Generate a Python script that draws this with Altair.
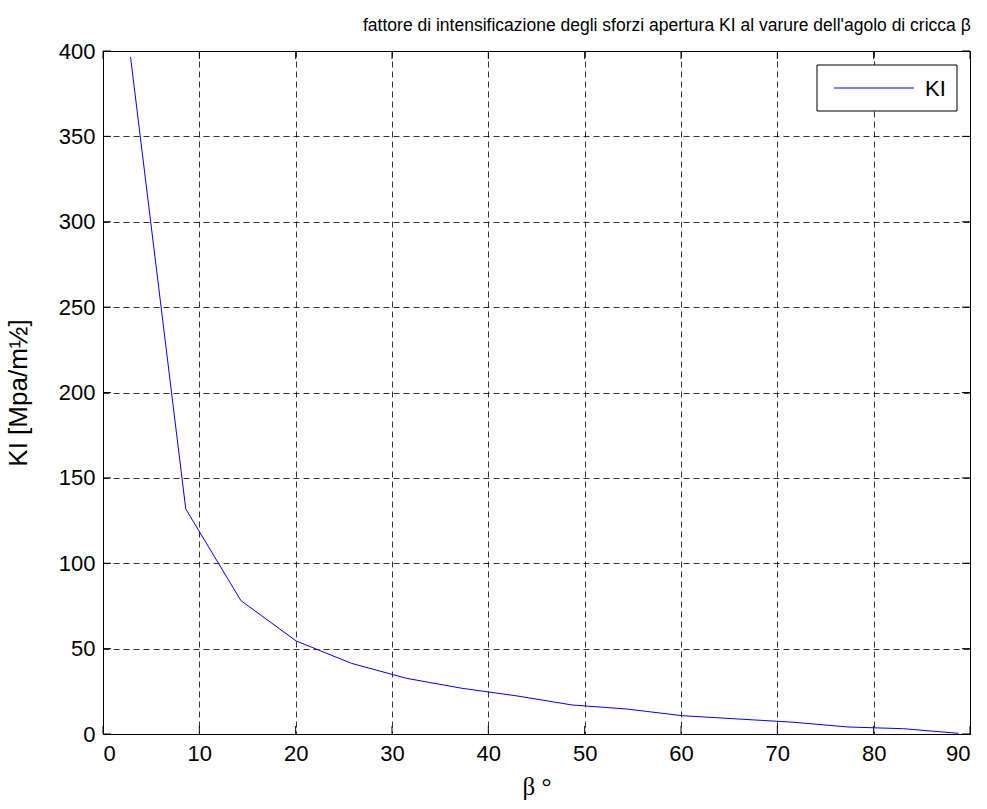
import altair as alt
import pandas as pd

# Crack angle beta (degrees) and opening-mode stress intensity factor KI
beta_deg = [2.86, 8.59, 14.32, 20.05, 25.78, 31.51, 37.24, 42.97,
            48.70, 54.43, 60.16, 65.89, 71.62, 77.35, 83.08, 88.81]
ki_values = [396.5, 131.8, 78.1, 54.5, 41.4, 32.6, 26.8, 22.3,
             17.0, 14.6, 10.7, 8.8, 6.9, 4.1, 3.1, 0.4]
series_name = "KI"

x_ticks = [0, 10, 20, 30, 40, 50, 60, 70, 80, 90]
y_ticks = [0, 50, 100, 150, 200, 250, 300, 350, 400]

W, H = 867, 683
TICK_LEN = 8
SANS = "Liberation Sans"
SERIF = "Liberation Serif"
BLUE = "#0000ff"

df = pd.DataFrame({"beta": beta_deg, "KI": ki_values})
xt = pd.DataFrame({"beta": x_ticks})
yt = pd.DataFrame({"KI": y_ticks})
leg = pd.DataFrame({"name": [series_name]})

x_scale = alt.Scale(domain=[0, 90], nice=False, zero=False)
y_scale = alt.Scale(domain=[0, 400], nice=False)

x_axis = alt.Axis(
    values=x_ticks, title="β °", titleFont=SERIF, titleFontSize=25,
    titleFontWeight="normal", titleColor="black", titlePadding=10,
    labelFont=SANS, labelFontSize=22, labelColor="black", labelPadding=9,
    ticks=False, domain=False, grid=True, gridDash=[6, 4],
    gridColor="black", gridOpacity=1, gridWidth=0.8,
)
y_axis = alt.Axis(
    values=y_ticks, title="KI [Mpa/m½]", titleFont=SANS, titleFontSize=26,
    titleFontWeight="normal", titleColor="black", titlePadding=27,
    labelFont=SANS, labelFontSize=22, labelColor="black", labelPadding=8,
    ticks=False, domain=False, grid=True, gridDash=[6, 4],
    gridColor="black", gridOpacity=1, gridWidth=0.8,
)

X = alt.X("beta:Q", scale=x_scale, axis=x_axis)
Y = alt.Y("KI:Q", scale=y_scale, axis=y_axis)

line = alt.Chart(df).mark_line(strokeWidth=1, color=BLUE).encode(x=X, y=Y)

# Inward tick marks on all four sides of the frame
bottom_ticks = alt.Chart(xt).mark_rule(color="black", strokeWidth=1).encode(
    x=X, y=alt.value(H), y2=alt.value(H - TICK_LEN))
top_ticks = alt.Chart(xt).mark_rule(color="black", strokeWidth=1).encode(
    x=X, y=alt.value(0), y2=alt.value(TICK_LEN))
left_ticks = alt.Chart(yt).mark_rule(color="black", strokeWidth=1).encode(
    y=Y, x=alt.value(0), x2=alt.value(TICK_LEN))
right_ticks = alt.Chart(yt).mark_rule(color="black", strokeWidth=1).encode(
    y=Y, x=alt.value(W), x2=alt.value(W - TICK_LEN))

# Legend box in the upper right corner
LX, LY, LW, LH = 714, 14, 140, 46
legend_box = alt.Chart(leg).mark_rect(fill="white", stroke="black", strokeWidth=1).encode(
    x=alt.value(LX), x2=alt.value(LX + LW), y=alt.value(LY), y2=alt.value(LY + LH))
legend_line = alt.Chart(leg).mark_rule(color=BLUE, strokeWidth=1).encode(
    x=alt.value(LX + 17), x2=alt.value(LX + 97), y=alt.value(LY + LH / 2))
legend_text = alt.Chart(leg).mark_text(
    align="left", baseline="middle", font=SANS, fontSize=22, color="black").encode(
    x=alt.value(LX + 108), y=alt.value(LY + LH / 2 + 1), text="name:N")

chart = alt.layer(
    line, bottom_ticks, top_ticks, left_ticks, right_ticks,
    legend_box, legend_line, legend_text,
).properties(
    width=W, height=H,
    title=alt.TitleParams(
        text="fattore di intensificazione degli sforzi apertura KI al varure dell'agolo di cricca β",
        anchor="start", frame="group", dx=260, offset=6, font=SANS, fontSize=17.5,
        fontWeight="normal", color="black",
    ),
    padding={"left": 103, "top": 51, "right": 17, "bottom": 75},
    autosize=alt.AutoSizeParams(type="none"),
    background="white",
).configure_view(stroke="black", strokeWidth=1)

chart.save("out.html", embed_options={"renderer": "svg", "actions": False})
